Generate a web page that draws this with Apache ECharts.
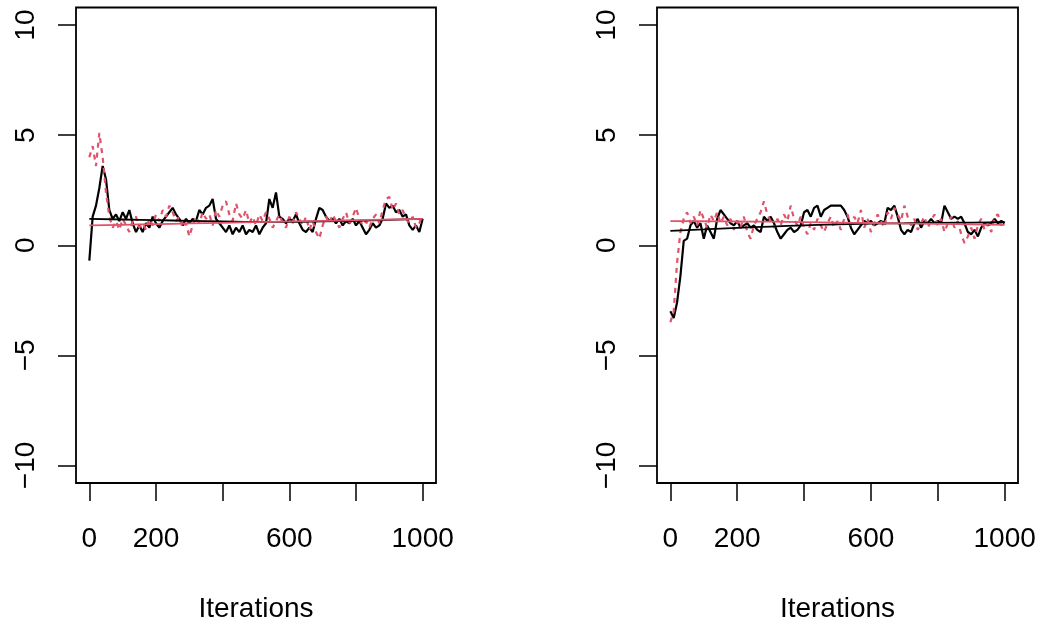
<!DOCTYPE html>
<html>
<head>
<meta charset="utf-8">
<script src="https://cdn.jsdelivr.net/npm/echarts@6/dist/echarts.min.js"></script>
<style>
  html, body { margin: 0; padding: 0; background: #fff; }
  #chart { width: 1044px; height: 628px; }
</style>
</head>
<body>
<div id="chart"></div>
<script>
// iteration step of the traced values below
const step = 10;

// left panel, chain 1 (black) and chain 2 (red dashed), every 10 iterations
const leftChain1 = [
  -0.7, 1.3, 1.8, 2.6, 3.6, 3.0, 1.6, 1.2, 1.4, 1.1,
  1.5, 1.2, 1.6, 1.0, 0.6, 0.9, 0.6, 1.0, 0.8, 1.3,
  1.0, 0.8, 1.1, 1.3, 1.5, 1.7, 1.4, 1.2, 0.9, 1.2,
  1.0, 1.2, 1.1, 1.6, 1.4, 1.7, 1.8, 2.1, 1.2, 1.0,
  0.8, 0.6, 0.9, 0.5, 0.8, 0.6, 0.9, 0.5, 0.7, 0.6,
  0.9, 0.5, 0.8, 1.0, 2.1, 1.7, 2.4, 1.3, 1.2, 1.0,
  1.2, 1.1, 1.4, 1.0, 0.7, 0.6, 0.8, 0.6, 1.2, 1.7,
  1.6, 1.3, 1.1, 1.2, 1.0, 1.2, 0.9, 1.1, 1.0, 1.2,
  0.9, 1.1, 0.8, 0.5, 0.7, 1.0, 0.8, 0.9, 1.2, 1.9,
  1.7, 1.8, 1.5, 1.6, 1.3, 1.4, 0.9, 0.7, 0.9, 0.6,
  1.2
];
const leftChain2 = [
  4.0, 4.5, 3.6, 5.1, 4.0, 2.4, 1.3, 0.8, 1.1, 0.7,
  1.2, 0.9, 0.6, 1.1, 1.3, 0.8, 1.0, 0.7, 1.2, 0.9,
  1.4, 1.1, 1.6, 1.3, 1.8, 1.5, 1.1, 1.3, 0.8, 1.0,
  0.4, 0.9, 1.3, 1.0, 1.5, 1.2, 1.4, 0.9, 1.6, 1.3,
  1.8, 2.0, 1.4, 1.1, 1.9, 1.4, 1.2, 1.6, 1.0, 1.3,
  0.9, 1.4, 1.1, 1.5, 1.2, 0.8, 1.1, 1.4, 1.0, 0.8,
  1.3, 1.0, 1.5, 1.2, 0.9, 1.3, 0.7, 1.1, 0.6, 0.3,
  0.9, 1.3, 1.0, 1.4, 1.1, 0.8, 1.2, 1.5, 1.0, 1.3,
  1.7, 1.2, 0.9, 1.1, 0.8, 1.2, 1.4, 1.0, 1.6, 2.1,
  2.2, 1.6, 1.9, 1.4, 1.6, 1.2, 1.0, 1.3, 0.8, 1.0,
  1.4
];

// right panel, chain 1 (black) and chain 2 (red dashed)
const rightChain1 = [
  -3.0, -3.3, -2.6, -1.4, 0.2, 0.3, 0.9, 1.1, 0.8, 1.0,
  0.3, 0.9, 0.6, 0.3, 1.2, 1.6, 1.4, 1.2, 1.0, 0.9,
  1.1, 0.8, 0.9, 1.0, 0.8, 0.9, 0.7, 0.6, 1.3, 1.1,
  1.3, 1.0, 0.6, 0.3, 0.5, 0.7, 0.8, 0.6, 0.7, 0.9,
  1.5, 1.6, 1.3, 1.7, 1.8, 1.3, 1.6, 1.7, 1.8, 1.8,
  1.8, 1.8, 1.6, 1.3, 0.8, 0.5, 0.7, 0.9, 1.1, 1.0,
  1.1, 0.9, 1.0, 1.1, 1.0, 1.7, 1.6, 1.8, 1.3, 0.7,
  0.5, 0.7, 0.6, 1.0, 1.2, 0.8, 1.1, 1.0, 1.2, 1.0,
  1.1, 1.0, 1.8, 1.5, 1.2, 1.3, 1.2, 1.3, 1.0, 0.6,
  0.5, 0.7, 0.4, 0.8, 1.0, 0.9, 1.0, 1.2, 1.0, 1.1,
  1.0
];
const rightChain2 = [
  -3.5, -3.0, -0.8, 0.6, 1.2, 1.5, 1.0, 1.3, 0.9, 1.6,
  1.2, 0.8, 1.4, 1.1, 1.5, 1.0, 1.3, 0.9, 1.2, 0.7,
  1.1, 0.8, 1.3, 0.6, 0.3, 0.9, 1.2, 1.5, 2.0, 1.4,
  1.1, 0.8, 1.2, 0.9, 1.4, 1.1, 1.8, 1.2, 0.9, 1.3,
  0.8, 0.5, 1.0, 0.7, 1.2, 0.9, 0.6, 1.0, 1.3, 0.8,
  1.1, 0.7, 1.2, 1.4, 0.9, 1.3, 1.0, 1.6, 0.8, 1.2,
  0.6, 1.0, 1.4, 1.1, 0.8, 1.5, 1.2, 1.7, 1.4, 1.1,
  1.8, 1.3, 0.9, 1.2, 0.7, 1.0, 1.3, 0.8, 1.1, 1.4,
  0.9, 1.2, 0.6, 1.0, 1.3, 0.8, 1.1, 0.5, 0.1, 0.4,
  0.8, 0.3, 0.9, 1.2, 0.7, 1.0, 0.6, 1.3, 1.4, 0.9,
  1.1
];

// smoothed (lowess) lines, every 100 iterations
const smoothStep = 100;
const leftSmooth1 = [1.2, 1.17, 1.14, 1.11, 1.08, 1.06, 1.06, 1.08, 1.11, 1.15, 1.2];
const leftSmooth2 = [0.9, 0.93, 0.96, 0.99, 1.02, 1.05, 1.08, 1.11, 1.14, 1.17, 1.2];
const rightSmooth1 = [0.65, 0.72, 0.79, 0.85, 0.9, 0.95, 0.98, 1.0, 1.02, 1.03, 1.05];
const rightSmooth2 = [1.1, 1.09, 1.08, 1.07, 1.05, 1.03, 1.01, 0.99, 0.97, 0.95, 0.93];

const xTicks = [0, 200, 400, 600, 800, 1000];
const xTickLabels = [0, 200, 600, 1000];
const yTicks = [-10, -5, 0, 5, 10];

const black = "#000000";
const red = "#DF536B";
const font = "'Liberation Sans', Arial, Helvetica, sans-serif";

function pairs(values, every) {
  return values.map((v, i) => [i * every, v]);
}

function xAxisFor(idx) {
  return {
    gridIndex: idx,
    type: "value",
    min: -40,
    max: 1040,
    name: "Iterations",
    nameLocation: "middle",
    nameGap: 112,
    nameTextStyle: { color: black, fontSize: 28, fontFamily: font },
    axisLine: { show: false, onZero: false },
    splitLine: { show: false },
    axisTick: {
      show: true,
      length: 18,
      customValues: xTicks,
      lineStyle: { color: black, width: 1.5 },
    },
    axisLabel: {
      customValues: xTickLabels,
      margin: 42,
      color: black,
      fontSize: 28,
      fontFamily: font,
      formatter: (v) => String(v),
    },
  };
}

function yAxisFor(idx) {
  return {
    gridIndex: idx,
    type: "value",
    min: -10.8,
    max: 10.8,
    axisLine: { show: false, onZero: false },
    splitLine: { show: false },
    axisTick: {
      show: true,
      length: 18,
      customValues: yTicks,
      lineStyle: { color: black, width: 1.5 },
    },
    axisLabel: {
      customValues: yTicks,
      rotate: 90,
      margin: 36,
      color: black,
      fontSize: 28,
      fontFamily: font,
      formatter: (v) => (v < 0 ? "\u2212" + Math.abs(v) : String(v)),
    },
  };
}

function trace(idx, values, color, dashed) {
  return {
    type: "line",
    xAxisIndex: idx,
    yAxisIndex: idx,
    data: pairs(values, step),
    symbol: "none",
    lineStyle: {
      color: color,
      width: 2.2,
      type: dashed ? [5, 5] : "solid",
    },
    z: dashed ? 3 : 2,
  };
}

function smooth(idx, values, color) {
  return {
    type: "line",
    xAxisIndex: idx,
    yAxisIndex: idx,
    data: pairs(values, smoothStep),
    symbol: "none",
    smooth: true,
    lineStyle: { color: color, width: 1.8 },
    z: 4,
  };
}

const option = {
  animation: false,
  backgroundColor: "#ffffff",
  grid: [
    { left: 76, top: 7.5, width: 360, height: 476.5, show: true, borderColor: black, borderWidth: 1.8, backgroundColor: "transparent" },
    { left: 657, top: 7.5, width: 361, height: 476.5, show: true, borderColor: black, borderWidth: 1.8, backgroundColor: "transparent" },
  ],
  xAxis: [xAxisFor(0), xAxisFor(1)],
  yAxis: [yAxisFor(0), yAxisFor(1)],
  series: [
    trace(0, leftChain1, black, false),
    trace(0, leftChain2, red, true),
    smooth(0, leftSmooth1, black),
    smooth(0, leftSmooth2, red),
    trace(1, rightChain1, black, false),
    trace(1, rightChain2, red, true),
    smooth(1, rightSmooth1, black),
    smooth(1, rightSmooth2, red),
  ],
};

const chart = echarts.init(document.getElementById("chart"));
chart.setOption(option);
</script>
</body>
</html>
